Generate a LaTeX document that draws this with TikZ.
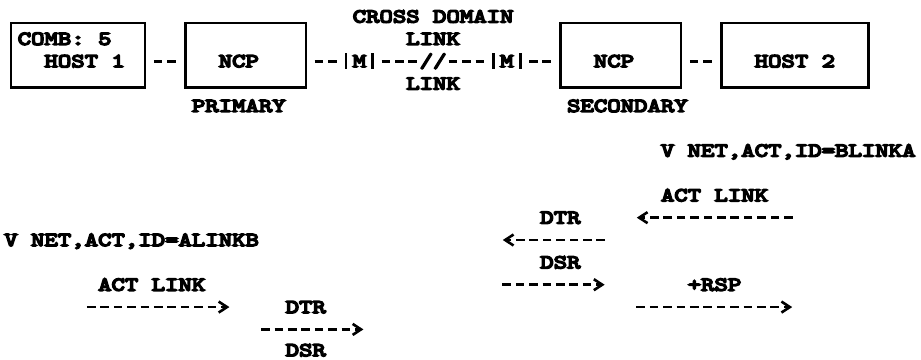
\documentclass[tikz,border=0pt]{standalone}
\usepackage{fontspec}
\newfontfamily\tw{Latin Modern Mono}[FakeStretch=1.3, BoldFont={Latin Modern Mono}, BoldFeatures={FakeBold=8}]
\usetikzlibrary{arrows.meta}

\begin{document}
\begin{tikzpicture}[x=6.7pt, y=-11.175pt,
        txt/.style={font=\tw\bfseries\fontsize{9.82}{11}\selectfont, inner sep=0pt, outer sep=0pt, text height=6pt, text depth=0pt},
        station/.style={draw, line width=1.3pt, minimum width=#1*6.7pt, minimum height=32.25pt, inner sep=0pt, outer sep=0pt},
        mux/.style={txt, minimum width=13.4pt, minimum height=8pt},
        bar/.style={line width=1.4pt},
        link/.style={line width=1.3pt, dash pattern=on 4.3pt off 2.4pt},
        msg/.style={link, -{Straight Barb[length=4.2pt, width=5.5pt, line width=1.3pt]}}]
    \fill[white] (-0.8209,-0.7383) rectangle (67.91,15.325);
    \useasboundingbox (-0.8209,-0.7383) rectangle (67.91,15.325);

    \node[txt] (xdom) at (31.5,0) {CROSS DOMAIN};
    \node[txt] (xlinkt) at (31.5,1) {LINK};
    \node[txt] (xlinkb) at (31.5,3) {LINK};

    \node[station=10] (host1) at (5,1.734) {};
    \node[txt] (comb) at (4,1) {COMB: 5};
    \node[txt] (host1l) at (5.5,2) {HOST 1};
    \node[station=9] (ncpP) at (17.5,1.734) {};
    \node[txt] (ncpPl) at (17,2) {NCP};
    \node[txt] (prim) at (17,4) {PRIMARY};
    \node[mux] (mA) at (26,2) {M};
    \node[txt] (brk) at (31.5,2) {//};
    \node[mux] (mB) at (37,2) {M};
    \node[station=9] (ncpS) at (45.5,1.734) {};
    \node[txt] (ncpSl) at (45,2) {NCP};
    \node[txt] (sec) at (46,4) {SECONDARY};
    \node[station=11] (host2) at (58.5,1.734) {};
    \node[txt] (host2l) at (58.5,2) {HOST 2};

    \draw[bar] (mA.north west) -- (mA.south west) (mA.north east) -- (mA.south east);
    \draw[bar] (mB.north west) -- (mB.south west) (mB.north east) -- (mB.south east);

    \draw[link] ([xshift=4.4pt]host1.east |- host1l) -- ([xshift=-4.4pt]ncpP.west |- host1l);
    \draw[link] ([xshift=4.4pt]ncpP.east |- mA) -- ([xshift=-4.4pt]mA.west);
    \draw[link] ([xshift=4.4pt]mA.east) -- ([xshift=-1.1pt]brk.west);
    \draw[link] ([xshift=1.1pt]brk.east) -- ([xshift=-4.4pt]mB.west);
    \draw[link] ([xshift=4.4pt]mB.east) -- ([xshift=-4.4pt]ncpS.west |- mB);
    \draw[link] ([xshift=4.4pt]ncpS.east |- ncpSl) -- ([xshift=-4.4pt]host2.west |- ncpSl);

    \node[txt] (alinkb) at (9,10) {V NET,ACT,ID=ALINKB};
    \node[txt] (actA) at (10.5,12) {ACT LINK};
    \coordinate (actAs) at (5.67,13);
    \coordinate (actAe) at (16.3,13);
    \draw[msg] (actAs) -- (actAe);
    \node[txt] (dtrA) at (22,13) {DTR};
    \coordinate (dtrAs) at (18.67,14);
    \coordinate (dtrAe) at (26.3,14);
    \draw[msg] (dtrAs) -- (dtrAe);
    \node[txt] (dsrA) at (22,14.93) {DSR};

    \node[txt] (blinka) at (58,6) {V NET,ACT,ID=BLINKA};
    \node[txt] (actB) at (52.5,8) {ACT LINK};
    \coordinate (actBs) at (58.33,9);
    \coordinate (actBe) at (46.7,9);
    \draw[msg] (actBs) -- (actBe);
    \node[txt] (dtrB) at (41,9) {DTR};
    \coordinate (dtrBs) at (44.33,10);
    \coordinate (dtrBe) at (36.7,10);
    \draw[msg] (dtrBs) -- (dtrBe);
    \node[txt] (dsrB) at (41,11) {DSR};
    \coordinate (dsrBs) at (36.67,12);
    \coordinate (dsrBe) at (44.3,12);
    \draw[msg] (dsrBs) -- (dsrBe);
    \node[txt] (rsp) at (52.5,12) {+RSP};
    \coordinate (rspBs) at (46.67,13);
    \coordinate (rspBe) at (58.3,13);
    \draw[msg] (rspBs) -- (rspBe);
\end{tikzpicture}
\end{document}
